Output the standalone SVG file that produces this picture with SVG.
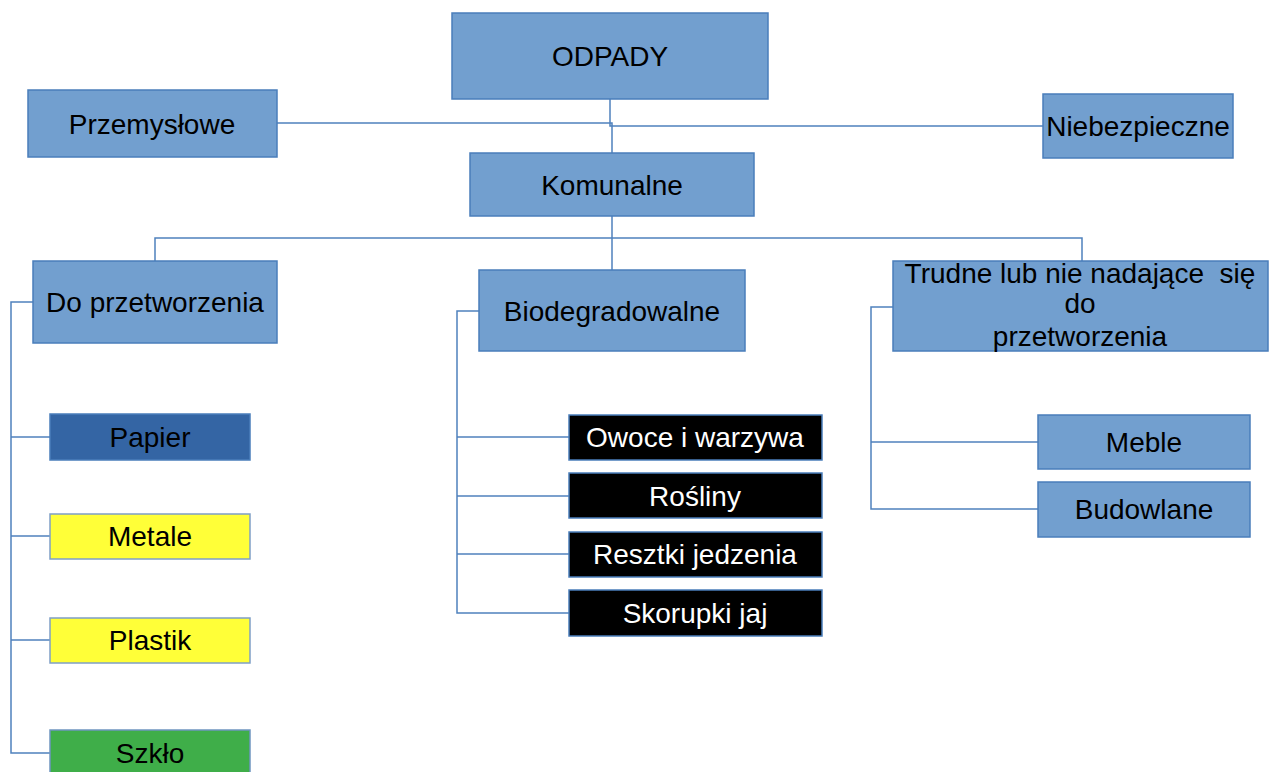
<svg xmlns="http://www.w3.org/2000/svg" width="1278" height="772" viewBox="0 0 1278 772">
<style>
.box{fill:#729fcf;stroke:#4a7ebb;stroke-width:1.5}
.dark{fill:#3465a4;stroke:#4a7ebb;stroke-width:1.5}
.yel{fill:#ffff38;stroke:#7f9fc6;stroke-width:1.5}
.grn{fill:#3fae49;stroke:#6f95c0;stroke-width:1.5}
.blk{fill:#000000;stroke:#4a7ebb;stroke-width:1.5}
text{font-family:"Liberation Sans",Arial,sans-serif;font-size:28px;fill:#000;text-anchor:middle;white-space:pre}
.w{fill:#ffffff}
.conn{fill:none;stroke:#4f81bd;stroke-width:1.5}
</style>
<rect width="1278" height="772" fill="#ffffff"/>
<g id="connectors" class="conn">
<polyline points="610,99 610,126 1043,126"/>
<polyline points="277,123 612,123 612,153"/>
<line x1="612" y1="216" x2="612" y2="270"/>
<polyline points="155,261 155,238 1082,238 1082,261"/>
<polyline points="33,302 11,302 11,753 50,753"/>
<line x1="11" y1="437" x2="50" y2="437"/>
<line x1="11" y1="536" x2="50" y2="536"/>
<line x1="11" y1="640" x2="50" y2="640"/>
<polyline points="479,311 457,311 457,613 569,613"/>
<line x1="457" y1="437" x2="569" y2="437"/>
<line x1="457" y1="496" x2="569" y2="496"/>
<line x1="457" y1="554" x2="569" y2="554"/>
<polyline points="893,307 871,307 871,509 1038,509"/>
<line x1="871" y1="442" x2="1038" y2="442"/>
</g>
<g id="odpady"><rect class="box" x="452" y="13" width="316" height="86"/><text x="610" y="66">ODPADY</text></g>
<g id="przemyslowe"><rect class="box" x="28" y="90" width="249" height="67"/><text x="152" y="134">Przemysłowe</text></g>
<g id="niebezpieczne"><rect class="box" x="1043" y="94" width="190" height="64"/><text x="1138" y="136">Niebezpieczne</text></g>
<g id="komunalne"><rect class="box" x="470" y="153" width="284" height="63"/><text x="612" y="195">Komunalne</text></g>
<g id="do-przetworzenia"><rect class="box" x="33" y="261" width="244" height="82"/><text x="155" y="312">Do przetworzenia</text></g>
<g id="biodegradowalne"><rect class="box" x="479" y="270" width="266" height="81"/><text x="612" y="321">Biodegradowalne</text></g>
<g id="trudne"><rect class="box" x="893" y="261" width="375" height="90"/><text x="1080" y="283">Trudne lub nie nadające  się</text><text x="1080" y="313">do</text><text x="1080" y="346">przetworzenia</text></g>
<g id="papier"><rect class="dark" x="50" y="414" width="200" height="46"/><text x="150" y="447">Papier</text></g>
<g id="metale"><rect class="yel" x="50" y="514" width="200" height="45"/><text x="150" y="546">Metale</text></g>
<g id="plastik"><rect class="yel" x="50" y="618" width="200" height="45"/><text x="150" y="650">Plastik</text></g>
<g id="szklo"><rect class="grn" x="50" y="730" width="200" height="50"/><text x="150" y="763">Szkło</text></g>
<g id="owoce"><rect class="blk" x="569" y="415" width="253" height="45"/><text class="w" x="695" y="447">Owoce i warzywa</text></g>
<g id="rosliny"><rect class="blk" x="569" y="473" width="253" height="45"/><text class="w" x="695" y="506">Rośliny</text></g>
<g id="resztki"><rect class="blk" x="569" y="532" width="253" height="45"/><text class="w" x="695" y="564">Resztki jedzenia</text></g>
<g id="skorupki"><rect class="blk" x="569" y="590" width="253" height="46"/><text class="w" x="695" y="623">Skorupki jaj</text></g>
<g id="meble"><rect class="box" x="1038" y="415" width="212" height="54"/><text x="1144" y="452">Meble</text></g>
<g id="budowlane"><rect class="box" x="1038" y="482" width="212" height="55"/><text x="1144" y="519">Budowlane</text></g>
</svg>
